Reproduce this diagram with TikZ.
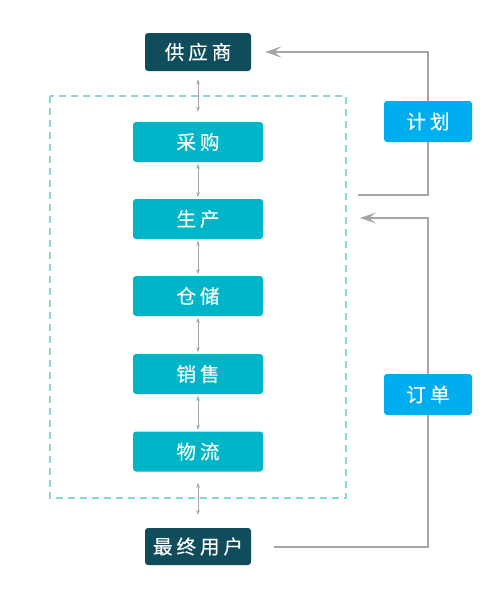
\documentclass[tikz,border=0pt]{standalone}
\usepackage{fontspec}
\newfontfamily\cjkfont[FakeBold=0.3]{Noto Sans CJK SC}
\usetikzlibrary{arrows.meta,backgrounds}
\definecolor{darkbox}{HTML}{0F4C5C}
\definecolor{procteal}{HTML}{00B5C7}
\definecolor{skyb}{HTML}{00AEEF}
\definecolor{lgray}{HTML}{A5A5A5}
\definecolor{dashc}{HTML}{8BD4DC}
\newcommand\chgap{\hspace{4pt}}
\begin{document}
\begin{tikzpicture}[x=1pt,y=-1pt,
 box/.style={rounded corners=3pt, minimum width=130pt, minimum height=40pt, fill=procteal, text=white, font=\cjkfont\fontsize{19.5}{22}\selectfont, inner sep=0pt},
 endbox/.style={box, fill=darkbox, minimum width=106pt, minimum height=38pt},
 tagbox/.style={box, fill=skyb, minimum width=88pt, minimum height=41pt},
 link/.style={draw=lgray, line width=0.9pt, {Stealth[length=5pt,width=3.5pt]}-{Stealth[length=5pt,width=3.5pt]}},
 flow/.style={draw=lgray, line width=2pt, -{Stealth[length=16pt,width=11pt,inset=7pt]}},
 frame/.style={draw=dashc, line width=1.2pt, dash pattern=on 7pt off 5pt}
]
\useasboundingbox (0,0) rectangle (500,597);
\node[endbox] (sup) at (198,52) {供\chgap 应\chgap 商};
\node[box] (cg) at (198,142) {采\chgap 购};
\node[box] (sc) at (198,219) {生\chgap 产};
\node[box] (cc) at (198,296) {仓\chgap 储};
\node[box] (xs) at (198,374) {销\chgap 售};
\node[box] (wl) at (198,451.5) {物\chgap 流};
\node[endbox, minimum height=37pt] (yh) at (198,546.5) {最\chgap 终\chgap 用\chgap 户};
\node[tagbox] (jh) at (428,121.5) {计\chgap 划};
\node[tagbox] (dd) at (428,394.5) {订\chgap 单};
\coordinate (a1) at (358,195);
\coordinate (a2) at (360,218);
\begin{scope}[on background layer]
\draw[frame] (50,96) rectangle (346,498);
\draw[flow] (a1) -| (jh.north) |- ([xshift=14pt]sup.east);
\draw[flow] ([xshift=23pt]yh.east) -| (dd.south) |- (a2);
\end{scope}
\draw[link, shorten <=8pt, shorten >=10pt] (sup.south) -- (cg.north);
\draw[link, shorten <=1.5pt, shorten >=1.5pt] (cg.south) -- (sc.north);
\draw[link, shorten <=1.5pt, shorten >=1.5pt] (sc.south) -- (cc.north);
\draw[link, shorten <=1.5pt, shorten >=1.5pt] (cc.south) -- (xs.north);
\draw[link, shorten <=1.5pt, shorten >=1.5pt] (xs.south) -- (wl.north);
\draw[link, shorten <=11pt, shorten >=13pt] (wl.south) -- (yh.north);
\end{tikzpicture}
\end{document}
